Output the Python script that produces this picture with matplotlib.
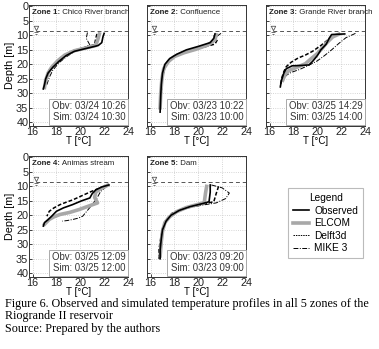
import matplotlib
matplotlib.use("Agg")
import matplotlib.pyplot as plt
from matplotlib.lines import Line2D

# Data

zone_names = ["Chico River branch", "Confluence", "Grande River branch", "Animas stream", "Dam"]
obs_times = ["03/24 10:26", "03/23 10:22", "03/25 14:29", "03/25 12:09", "03/23 09:20"]
sim_times = ["03/24 10:30", "03/23 10:00", "03/25 14:00", "03/25 12:00", "03/23 09:00"]

water_level = 8.5
symbol_t = 16.3

obs_T = [
    [22.0, 21.9, 21.8, 21.5, 20.5, 19.5, 18.8, 18.2, 17.7, 17.3, 17.1, 17.0, 16.9],
    [21.4, 21.3, 21.0, 20.0, 19.0, 18.2, 17.6, 17.2, 17.0, 16.9, 16.85, 16.8],
    [22.3, 21.2, 21.0, 20.75, 20.3, 20.0, 19.6, 19.3, 18.6, 17.9, 17.4, 17.2, 17.0, 16.9],
    [22.4, 21.8, 21.3, 21.0, 20.8, 20.1, 19.35, 18.6, 18.0, 17.6, 17.3, 17.0, 16.9],
    [21.0, 21.0, 20.9, 20.3, 19.3, 18.4, 17.7, 17.3, 17.0, 16.9, 16.8, 16.8],
]
obs_D = [
    [9.3, 10.5, 12.5, 13.5, 14.5, 15.5, 17, 19, 21, 23, 25, 27, 28.5],
    [9.5, 11, 12.5, 13.8, 15, 16.5, 18, 20, 23, 27, 31, 36.5],
    [9.5, 9.7, 11, 13, 15, 17, 19, 20.2, 20.4, 20.5, 21.5, 23, 25.5, 27.8],
    [9.5, 10.2, 11.2, 12.5, 14, 15, 16.3, 17.4, 18.6, 20.3, 21.5, 22.5, 23.7],
    [9.5, 12, 15.3, 16.0, 17.0, 18.3, 20, 22, 25, 28, 32, 35],
]

elcom_T = [
    [21.6, 21.5, 21.3, 20.5, 19.5, 18.7, 18.1, 17.6, 17.3, 17.1, 17.0],
    [21.5, 21.4, 20.8, 19.8, 18.8, 18.0, 17.5, 17.1, 16.95, 16.85, 16.8],
    [21.8, 21.3, 20.8, 20.4, 20.0, 19.5, 19.0, 18.3, 17.6, 17.3, 17.1],
    [22.3, 21.7, 21.3, 21.2, 21.45, 20.7, 19.9, 19.1, 18.3, 17.8, 17.4, 17.0],
    [20.7, 20.6, 20.5, 19.9, 19.0, 18.2, 17.6, 17.2, 17.0, 16.9, 16.8],
]
elcom_D = [
    [9.5, 11, 13.5, 14.3, 15.3, 16.8, 18.8, 21, 23, 25.5, 28],
    [9.8, 11.5, 13.3, 14.8, 16, 17.3, 19, 21.5, 25, 30, 35],
    [9.6, 10.5, 12.5, 14.5, 16.3, 18, 19.8, 21, 22.2, 23.5, 25.5],
    [9.6, 10.8, 12, 13.8, 15.7, 16.8, 18, 19, 19.7, 20.5, 21.4, 23.1],
    [10, 12.5, 15.6, 16.3, 17.3, 18.7, 20.5, 22.5, 25.5, 29, 34],
]

delft_T = [
    [21.4, 21.3, 21.2, 20.3, 19.3, 18.5, 17.9, 17.4, 17.1, 17.0],
    [21.3, 21.6, 21.4, 20.5, 19.5, 18.5, 17.8, 17.3, 17.0, 16.9],
    [21.2, 20.9, 20.3, 19.6, 19.0, 18.4, 17.8, 17.4, 17.2, 17.0, 16.9],
    [22.0, 21.5, 20.9, 20.2, 19.4, 18.8, 18.3, 17.8, 17.4, 17.2],
    [21.7, 21.5, 21.3, 20.5, 19.5, 18.6, 17.8, 17.3, 17.0, 16.85, 16.7, 16.7],
]
delft_D = [
    [9.5, 11, 13.2, 14.2, 15.4, 17.2, 19.5, 22, 25, 27.5],
    [10, 11.5, 13, 14, 15, 16.2, 17.8, 20, 24, 30],
    [10.2, 11.5, 13.5, 15.5, 16.8, 17.8, 19.3, 20.8, 22.5, 25, 27.5],
    [10, 10.8, 11.8, 13.1, 14.6, 15.5, 16.3, 17.4, 18.6, 20.3],
    [10, 12.5, 15.3, 16.0, 16.8, 17.8, 19.3, 21.5, 24.5, 28, 32, 35.5],
]

mike_T = [
    [20.6, 20.5, 20.8, 20.2, 19.5, 18.8, 18.2, 17.7, 17.4, 17.2],
    [21.9, 21.5, 21.1, 20.2, 19.2, 18.3, 17.6, 17.2, 17.0, 16.9],
    [23.2, 22.4, 21.8, 21.2, 20.6, 20.0, 19.3, 18.5, 17.8, 17.4, 17.2],
    [22.2, 21.7, 21.4, 21.0, 20.6, 20.2, 19.8, 19.4, 18.9, 18.5],
    [21.1, 22.0, 22.6, 22.3, 21.5, 20.3, 19.3, 18.4, 17.7, 17.3, 17.0, 16.9],
]
mike_D = [
    [9, 11, 13.3, 14.4, 15.6, 17.5, 19.5, 22, 24.5, 27],
    [9.3, 10.5, 12.5, 14, 15.3, 16.8, 18.5, 21, 25, 30],
    [9.3, 10.8, 12.8, 15, 17, 18.8, 20.3, 21.8, 22.8, 23.8, 25],
    [10, 11.8, 14, 16.3, 18.3, 20.3, 21, 21.4, 21.8, 22.0],
    [9.5, 10.5, 12.3, 14.2, 15.7, 16.5, 17.3, 18.5, 20, 22, 25, 28],
]

# Styles

W, H = 379, 349
obs_style = dict(color="black", lw=1.2)
elcom_style = dict(color="#a8a8a8", lw=2.6)
delft_style = dict(color="black", lw=1.1, linestyle=(0, (2.5, 1.3)))
mike_style = dict(color="black", lw=0.7, linestyle=(0, (5, 1.5, 1, 1.5)))

plt.rcParams["font.family"] = ["Liberation Sans", "DejaVu Sans"]
fig = plt.figure(figsize=(W / 100, H / 100), dpi=100)

lefts = [29, 147, 266, 29, 147]
tops = [5, 5, 5, 156, 156]
pw, ph = 99, 121

for i in range(5):
    ax = fig.add_axes([lefts[i] / W, 1 - (tops[i] + ph) / H, pw / W, ph / H])
    ax.plot(mike_T[i], mike_D[i], **mike_style)
    ax.plot(delft_T[i], delft_D[i], **delft_style)
    ax.plot(elcom_T[i], elcom_D[i], **elcom_style)
    ax.plot(obs_T[i], obs_D[i], **obs_style)

    ax.axhline(water_level, color="#555555", lw=0.7, linestyle=(0, (4, 3)))
    ax.plot(symbol_t, water_level - 0.9, marker="v", ms=3.2, mfc="none", mec="#555555", mew=0.6)
    ax.plot(symbol_t, water_level + 0.2, marker="_", ms=3, mec="#555555", mew=0.6)
    ax.plot(symbol_t, water_level + 0.9, marker="_", ms=2, mec="#555555", mew=0.6)

    ax.set_xlim(15.7, 24)
    ax.set_ylim(41.3, -0.5)
    ax.set_xticks(range(16, 25, 2))
    ax.set_yticks(range(0, 41, 5))
    ax.grid(color="#c8c8c8", linestyle=":", lw=0.6)
    ax.tick_params(direction="in", length=2, width=0.6, labelsize=7.8, pad=0.5, colors="#222222")
    for s in ax.spines.values():
        s.set_linewidth(0.7)
        s.set_color("#333333")
    ax.set_xlabel("T [°C]", fontsize=7, labelpad=-0.5)
    if i in (0, 3):
        ax.set_ylabel("Depth [m]", fontsize=7.8, labelpad=1)
    else:
        ax.set_yticklabels([])

    zt = ax.text(0.03, 0.965, f"Zone {i + 1}:", transform=ax.transAxes, fontsize=5.7,
                 fontweight="bold", va="top", ha="left", color="#222222")
    ax.annotate(" " + zone_names[i], xy=(1, 0), xycoords=zt, va="bottom", ha="left",
                fontsize=5.7, color="#222222")
    ax.text(0.975, 0.03, f"Obv: {obs_times[i]}\nSim: {sim_times[i]}", transform=ax.transAxes,
            fontsize=6.9, va="bottom", ha="right", color="#333333", linespacing=1.15,
            bbox=dict(boxstyle="square,pad=0.25", fc="white", ec="#aaaaaa", lw=0.7))

handles = [
    Line2D([], [], **obs_style),
    Line2D([], [], **elcom_style),
    Line2D([], [], color="black", lw=0.7, linestyle=(0, (1.5, 1))),
    Line2D([], [], **mike_style),
]
labels = ["Observed", "ELCOM", "Delft3d", "MIKE 3"]
leg = fig.legend(handles, labels, title="Legend", loc="upper left",
                 bbox_to_anchor=(283 / W, 1 - 183 / H), fontsize=7.3, title_fontsize=7.3,
                 frameon=True, fancybox=False, edgecolor="#aaaaaa", handlelength=1.6,
                 handletextpad=0.5, labelspacing=0.25, borderpad=0.5)
leg.get_frame().set_linewidth(0.8)

caption = ("Figure 6. Observed and simulated temperature profiles in all 5 zones of the\n"
           "Riogrande II reservoir\n"
           "Source: Prepared by the authors")
fig.text(5 / W, 1 - 298 / H, caption, fontsize=8.7, family="Liberation Serif",
         va="top", ha="left", linespacing=1.05)

fig.savefig("out.png", dpi=100)
